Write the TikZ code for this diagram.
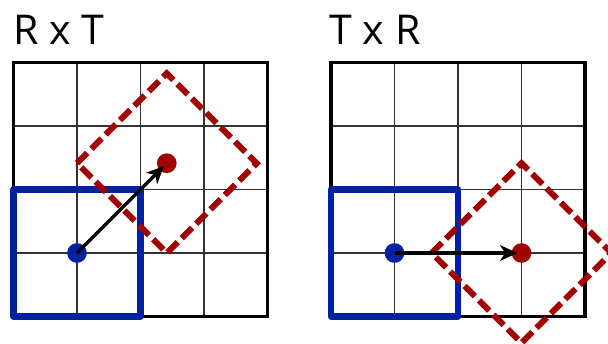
\documentclass[tikz,border=0pt]{standalone}
\usepackage{fontspec}
\setmainfont{Open Sans}
\usetikzlibrary{arrows.meta}
\definecolor{myblue}{RGB}{0,34,160}
\definecolor{myred}{RGB}{160,0,0}
\begin{document}
\begin{tikzpicture}[x=1cm,y=1cm,
  gridthin/.style={line width=0.5pt, black!80},
  gridframe/.style={line width=1.5pt, black},
  bluebox/.style={line width=2.8pt, myblue, line join=round},
  reddiamond/.style={line width=2.7pt, myred, dash pattern=on 6.5pt off 2.6pt},
  bluedot/.style={circle, fill=myblue, inner sep=0pt, minimum size=0.31cm},
  reddot/.style={circle, fill=myred, inner sep=0pt, minimum size=0.31cm},
  motion/.style={line width=1.5pt, black, shorten >=1.8pt, -{Stealth[length=7.8pt,width=7pt,inset=2.3pt]}},
  title/.style={anchor=base west, inner sep=0pt, font=\fontsize{18.4}{22}\selectfont}]
\clip (-0.2126,-0.4173) rectangle (9.3622,4.9843);
% grids
\foreach \ox in {0,5} {
  \draw[gridthin] (\ox,0) grid (\ox+4,4);
  \draw[gridframe] (\ox,0) rectangle (\ox+4,4);
}
% blue squares
\draw[bluebox] (0,0) rectangle (2,2);
\draw[bluebox] (5,0) rectangle (7,2);
% red diamonds
\draw[reddiamond] (1,2.414) -- (2.414,3.828) -- (3.828,2.414) -- (2.414,1) -- cycle;
\draw[reddiamond] (6.586,1) -- (8,2.414) -- (9.414,1) -- (8,-0.414) -- cycle;
% dots
\node[bluedot] (bL) at (1,1) {};
\node[reddot] (rL) at (2.414,2.414) {};
\node[bluedot] (bR) at (6,1) {};
\node[reddot] (rR) at (8,1) {};
% arrows
\draw[motion] (bL.center) -- (rL.center);
\draw[motion] (bR.center) -- (rR.center);
% titles
\node[title] (tL) at (-0.01,4.276) {R x T};
\node[title] (tR) at (4.97,4.276) {T x R};
\end{tikzpicture}
\end{document}
